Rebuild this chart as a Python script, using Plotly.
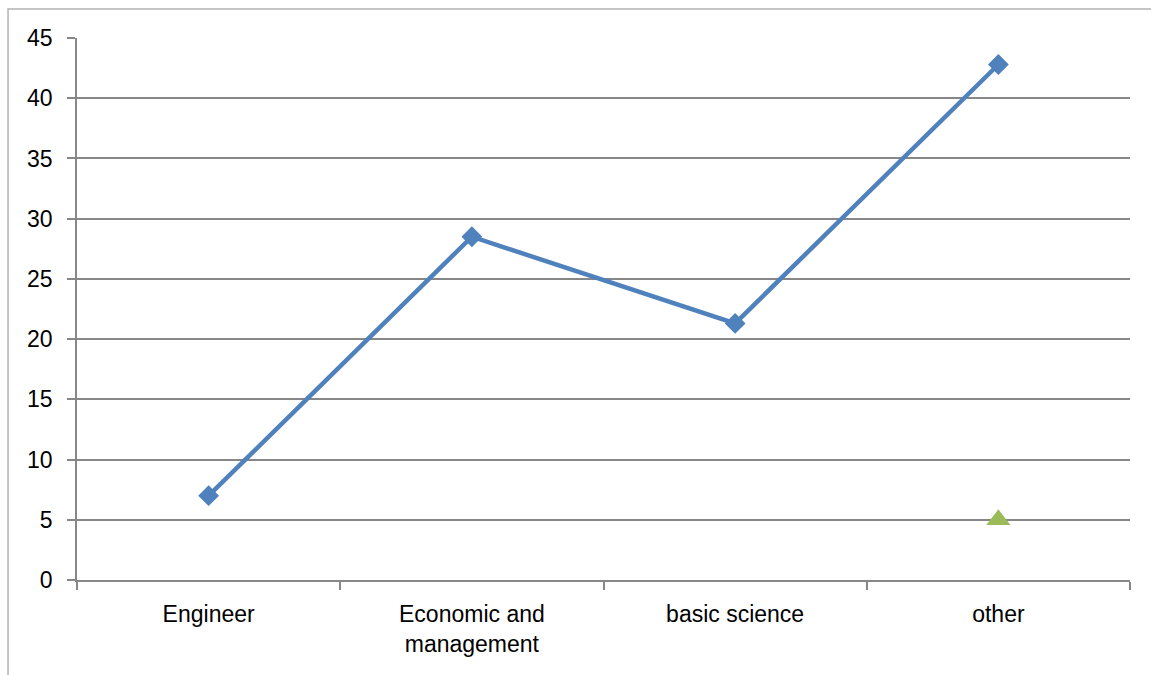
import plotly.graph_objects as go

# Field categories and the values plotted for each
categories = ["Engineer", "Economic and<br>management", "basic science", "other"]
main_values = [7.0, 28.5, 21.3, 42.8]

# Secondary series: a single point on the last category
secondary_categories = ["other"]
secondary_values = [5.0]

y_ticks = list(range(0, 50, 5))

GRID = "#878787"
FONT = dict(family="Liberation Sans, Arial, sans-serif", size=23, color="#000000")

fig = go.Figure()

fig.add_trace(go.Scatter(
    x=categories,
    y=main_values,
    mode="lines+markers",
    line=dict(color="#4F81BD", width=4.5),
    marker=dict(symbol="diamond", size=16, color="#4F81BD"),
    showlegend=False,
))

fig.add_trace(go.Scatter(
    x=secondary_categories,
    y=secondary_values,
    mode="markers",
    marker=dict(symbol="triangle-up", size=21, color="#9BBB59"),
    showlegend=False,
))

# Outer chart frame (extends past the right and bottom edges)
fig.add_shape(
    type="rect", xref="paper", yref="paper",
    x0=-0.0655, x1=1.2, y0=-0.4, y1=1.0535,
    line=dict(color="#B3B3B3", width=1.5),
    fillcolor="rgba(0,0,0,0)", layer="below",
)

fig.update_layout(
    width=1151, height=675,
    margin=dict(l=77, r=21, t=38, b=95),
    paper_bgcolor="white",
    plot_bgcolor="white",
    font=FONT,
    xaxis=dict(
        type="category",
        categoryorder="array",
        categoryarray=categories,
        range=[-0.5, len(categories) - 0.5],
        tickson="boundaries",
        ticks="outside",
        ticklen=8,
        tickwidth=1.5,
        tickcolor=GRID,
        showgrid=False,
        showline=True,
        linecolor=GRID,
        linewidth=1.5,
        zeroline=False,
        tickfont=FONT,
        ticklabelstandoff=13,
    ),
    yaxis=dict(
        range=[0, 45],
        tickvals=y_ticks,
        ticks="outside",
        ticklen=8,
        tickwidth=1.5,
        tickcolor=GRID,
        showgrid=True,
        gridcolor=GRID,
        gridwidth=1.5,
        showline=True,
        linecolor=GRID,
        linewidth=1.5,
        zeroline=False,
        tickfont=FONT,
        ticklabelstandoff=10,
    ),
)

fig.write_html("out.html")
